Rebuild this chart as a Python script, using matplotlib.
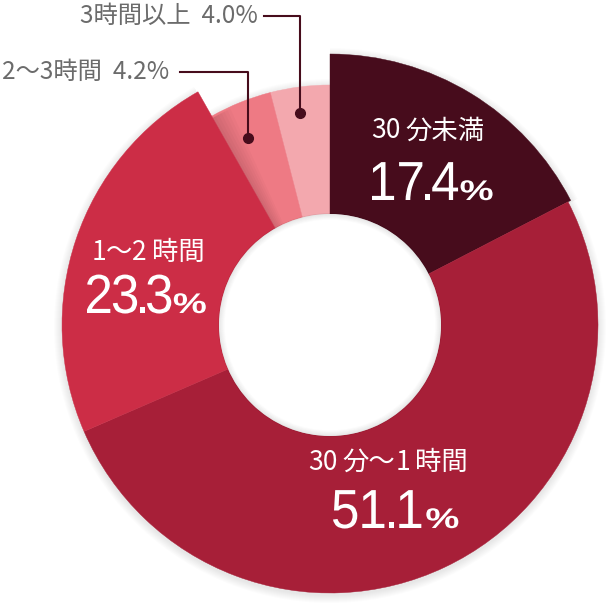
import re
import matplotlib
matplotlib.use("Agg")
import matplotlib.pyplot as plt
from matplotlib.patches import Wedge, Circle, PathPatch
from matplotlib.textpath import TextPath
from matplotlib.font_manager import FontProperties
from matplotlib.transforms import Affine2D
import numpy as np

# data (clockwise from 12 o'clock)
labels = ["30分未満", "30分～1時間", "1～2時間", "2～3時間", "3時間以上"]
values = [17.4, 51.1, 23.3, 4.2, 4.0]
colors = ["#470c1c", "#a71f38", "#cc2d46", "#ee7a84", "#f3a8ae"]
radii = [271, 268, 268, 240, 240]

plt.rcParams['font.family'] = ['Noto Sans CJK JP', 'DejaVu Sans']

W, H = 615, 603
fig = plt.figure(figsize=(W / 100, H / 100), dpi=100)
ax = fig.add_axes([0, 0, 1, 1])
ax.set_xlim(0, W)
ax.set_ylim(H, 0)  # pixel coords, y down
ax.axis("off")
renderer = fig.canvas.get_renderer()

cx, cy = 330, 325
hole = 111

# angles: visual clockwise from 90 deg -> data angles are negated (y axis inverted)
total = sum(values)
sweeps = [v / total * 360 for v in values]
starts = 90 - np.concatenate([[0], np.cumsum(sweeps)[:-1]])

# soft outer shadow
for k in range(8):
    for r, s, sw in zip(radii, starts, sweeps):
        ax.add_patch(Wedge((cx, cy + 2), r + 1 + k, -s, -s + sw,
                           width=r - hole + 2 + 2 * k, facecolor="black",
                           alpha=0.01, lw=0))

draw_order = [4, 3, 0, 1, 2]
for i in draw_order:
    s, sw = starts[i], sweeps[i]
    if i == 2:
        # shadow the 1~2 slice throws onto the small slices
        for k in range(1, 7):
            ax.add_patch(Wedge((cx, cy), radii[i] - 30, -s, -s + sw + k * 0.8,
                               width=radii[i] - 30 - hole, facecolor="black",
                               alpha=0.02, lw=0))
    ax.add_patch(Wedge((cx, cy), radii[i], -s, -s + sw,
                       width=radii[i] - hole, facecolor=colors[i],
                       edgecolor=colors[i], lw=0.3))

# hole with faint inner shadow
ax.add_patch(Circle((cx, cy), hole, facecolor="white", lw=0))
for k in range(6):
    ax.add_patch(Circle((cx, cy), hole - k, facecolor="none",
                        edgecolor="black", lw=1.2, alpha=0.01 * (6 - k)))


num_fp = FontProperties(family="Liberation Sans")
pct_fp = FontProperties(family="Liberation Sans", weight="bold")
ref = TextPath((0, 0), "0", size=100, prop=num_fp).get_extents()
num_size = 39 / (ref.height / 100)


def glyph(ch, x, base, size, fp, sx=1.0, sy=1.0):
    tp = TextPath((0, 0), ch, size=size, prop=fp)
    bb = tp.get_extents()
    tr = Affine2D().translate(-bb.x0, 0).scale(sx, -sy).translate(x, base)
    ax.add_patch(PathPatch(tr.transform_path(tp), facecolor="white", lw=0))
    return bb.width * sx


def big_number(x, base, num):
    s = f"{num}"
    for j, ch in enumerate(s):
        x += glyph(ch, x, base, num_size, num_fp, 0.93, 1.0)
        nxt = s[j + 1] if j + 1 < len(s) else "%"
        x += 5 if "1" in (ch, nxt) else 2.5
    # wide, low percent sign
    pb = TextPath((0, 0), "%", size=100, prop=pct_fp).get_extents()
    glyph("%", x, base, 100, pct_fp, 32 / pb.width, 20 / pb.height)


def is_kanji(c):
    return 0x4E00 <= ord(c) <= 0x9FFF


def white_label(xc, yc, name, size=19, extra=5):
    runs = re.findall(r"\d+|\D+", name)
    texts, widths = [], []
    for r in runs:
        t = ax.text(0, yc, r, color="white", fontsize=size, ha="left", va="center")
        texts.append(t)
        widths.append(t.get_window_extent(renderer).width)
    gaps = []
    for a, b in zip(runs[:-1], runs[1:]):
        gaps.append(extra if (is_kanji(a[-1]) or is_kanji(b[0])) else 0)
    total_w = sum(widths) + sum(gaps)
    x = xc - total_w / 2
    for i, t in enumerate(texts):
        t.set_x(x)
        x += widths[i] + (gaps[i] if i < len(gaps) else 0)


white_label(428, 131, labels[0])
big_number(372, 200, values[0])
white_label(388, 462, labels[1])
big_number(333, 528, values[1])
white_label(148, 252, labels[2])
big_number(87, 313, values[2])

# leader labels for the small slices
line_col = "#470c1c"
ax.text(258, 16, f"{labels[4]}  {values[4]:.1f}%", color="#6b6b6b",
        fontsize=17.5, ha="right", va="center")
ax.plot([264, 300, 300], [16, 16, 113], color=line_col, lw=1.5)
ax.plot([300], [113], "o", color=line_col, ms=7)

ax.text(169, 72, f"{labels[3]}  {values[3]:.1f}%", color="#6b6b6b",
        fontsize=17.5, ha="right", va="center")
ax.plot([180, 248, 248], [72, 72, 138], color=line_col, lw=1.5)
ax.plot([248], [138], "o", color=line_col, ms=7)

fig.savefig("out.png", dpi=100)
